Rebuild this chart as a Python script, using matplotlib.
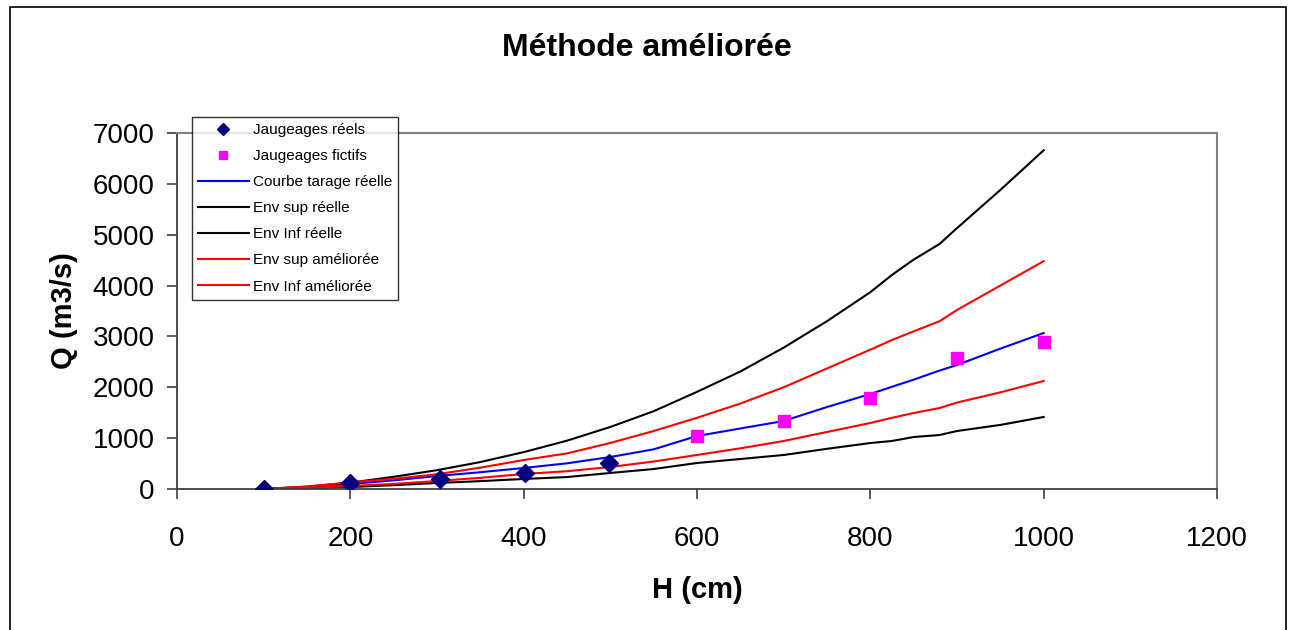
import matplotlib
matplotlib.use('Agg')
import matplotlib.pyplot as plt
from matplotlib.patches import Rectangle

plt.rcParams['font.family'] = ['Liberation Sans', 'DejaVu Sans']

# jaugeages
h_reels = [100, 200, 303, 401, 498]
q_reels = [0, 124, 203, 320, 515]
h_fictifs = [600, 700, 800, 900, 1000]
q_fictifs = [1040, 1330, 1790, 2580, 2890]

# courbes
h_courbes = [100, 150, 200, 250, 300, 350, 400, 450, 500, 550, 600, 650, 700,
             750, 800, 825, 850, 880, 900, 950, 1000]
q_tarage = [0, 40, 98, 170, 255, 330, 413, 505, 629, 780, 1042, 1190, 1337,
            1612, 1868, 2010, 2150, 2330, 2438, 2760, 3067]
q_sup_reelle = [0, 45, 125, 240, 370, 530, 725, 950, 1220, 1530, 1910, 2310, 2780,
                3300, 3870, 4210, 4510, 4820, 5130, 5880, 6660]
q_inf_reelle = [0, 15, 39, 75, 118, 155, 197, 235, 315, 393, 511, 590, 669,
                790, 904, 944, 1022, 1062, 1140, 1260, 1416]
q_sup_amelioree = [0, 50, 130, 200, 290, 420, 570, 700, 905, 1140, 1400, 1680, 2000,
                   2370, 2740, 2930, 3100, 3300, 3520, 4000, 4480]
q_inf_amelioree = [0, 20, 59, 100, 157, 220, 295, 350, 433, 540, 669, 800, 944,
                   1121, 1298, 1400, 1494, 1593, 1700, 1900, 2124]

fig = plt.figure(figsize=(12.92, 6.30), dpi=100)
ax = fig.add_axes([177 / 1292, 141 / 630, 1040 / 1292, 356 / 630])

ax.plot(h_reels, q_reels, 'D', color='#000080', markersize=9, label='Jaugeages réels', zorder=5)
ax.plot(h_fictifs, q_fictifs, 's', color='#FF00FF', markersize=8.5, label='Jaugeages fictifs', zorder=5)
ax.plot(h_courbes, q_tarage, color='#0000FF', lw=1.5, label='Courbe tarage réelle')
ax.plot(h_courbes, q_sup_reelle, color='black', lw=1.5, label='Env sup réelle')
ax.plot(h_courbes, q_inf_reelle, color='black', lw=1.5, label='Env Inf réelle')
ax.plot(h_courbes, q_sup_amelioree, color='#FF0000', lw=1.5, label='Env sup améliorée')
ax.plot(h_courbes, q_inf_amelioree, color='#FF0000', lw=1.5, label='Env Inf améliorée')

ax.set_xlim(0, 1200)
ax.set_ylim(0, 7000)
ax.set_xticks(range(0, 1201, 200))
ax.set_yticks(range(0, 7001, 1000))
ax.tick_params(labelsize=20, length=7, width=1.2, color='#404040', pad=9)
ax.tick_params(axis='x', pad=20)

for side in ['left', 'bottom']:
    ax.spines[side].set_color('#404040')
    ax.spines[side].set_linewidth(1.3)
for side in ['top', 'right']:
    ax.spines[side].set_color('#808080')
    ax.spines[side].set_linewidth(1.5)

ax.set_xlabel('H (cm)', fontsize=21, fontweight='bold', labelpad=17)
ax.set_ylabel('Q (m3/s)', fontsize=21, fontweight='bold', labelpad=11)
fig.text(647 / 1292, 1 - 48 / 630, 'Méthode améliorée', fontsize=23, fontweight='bold',
         ha='center', va='center')

leg = ax.legend(loc='upper left', bbox_to_anchor=(192 / 1292, 1 - 117 / 630),
                bbox_transform=fig.transFigure, fontsize=11, frameon=True,
                fancybox=False, edgecolor='black', borderpad=0.4,
                labelspacing=0.79, handlelength=3.3, handletextpad=0.3,
                borderaxespad=0, markerscale=0.65)
leg.get_frame().set_linewidth(1.0)
leg.set_zorder(10)

fig.add_artist(Rectangle((10 / 1292, -0.05), 1276 / 1292, 1.05 - 7 / 630,
                         transform=fig.transFigure, fill=False,
                         edgecolor='black', lw=1.2))

fig.savefig('out.png', dpi=100)
